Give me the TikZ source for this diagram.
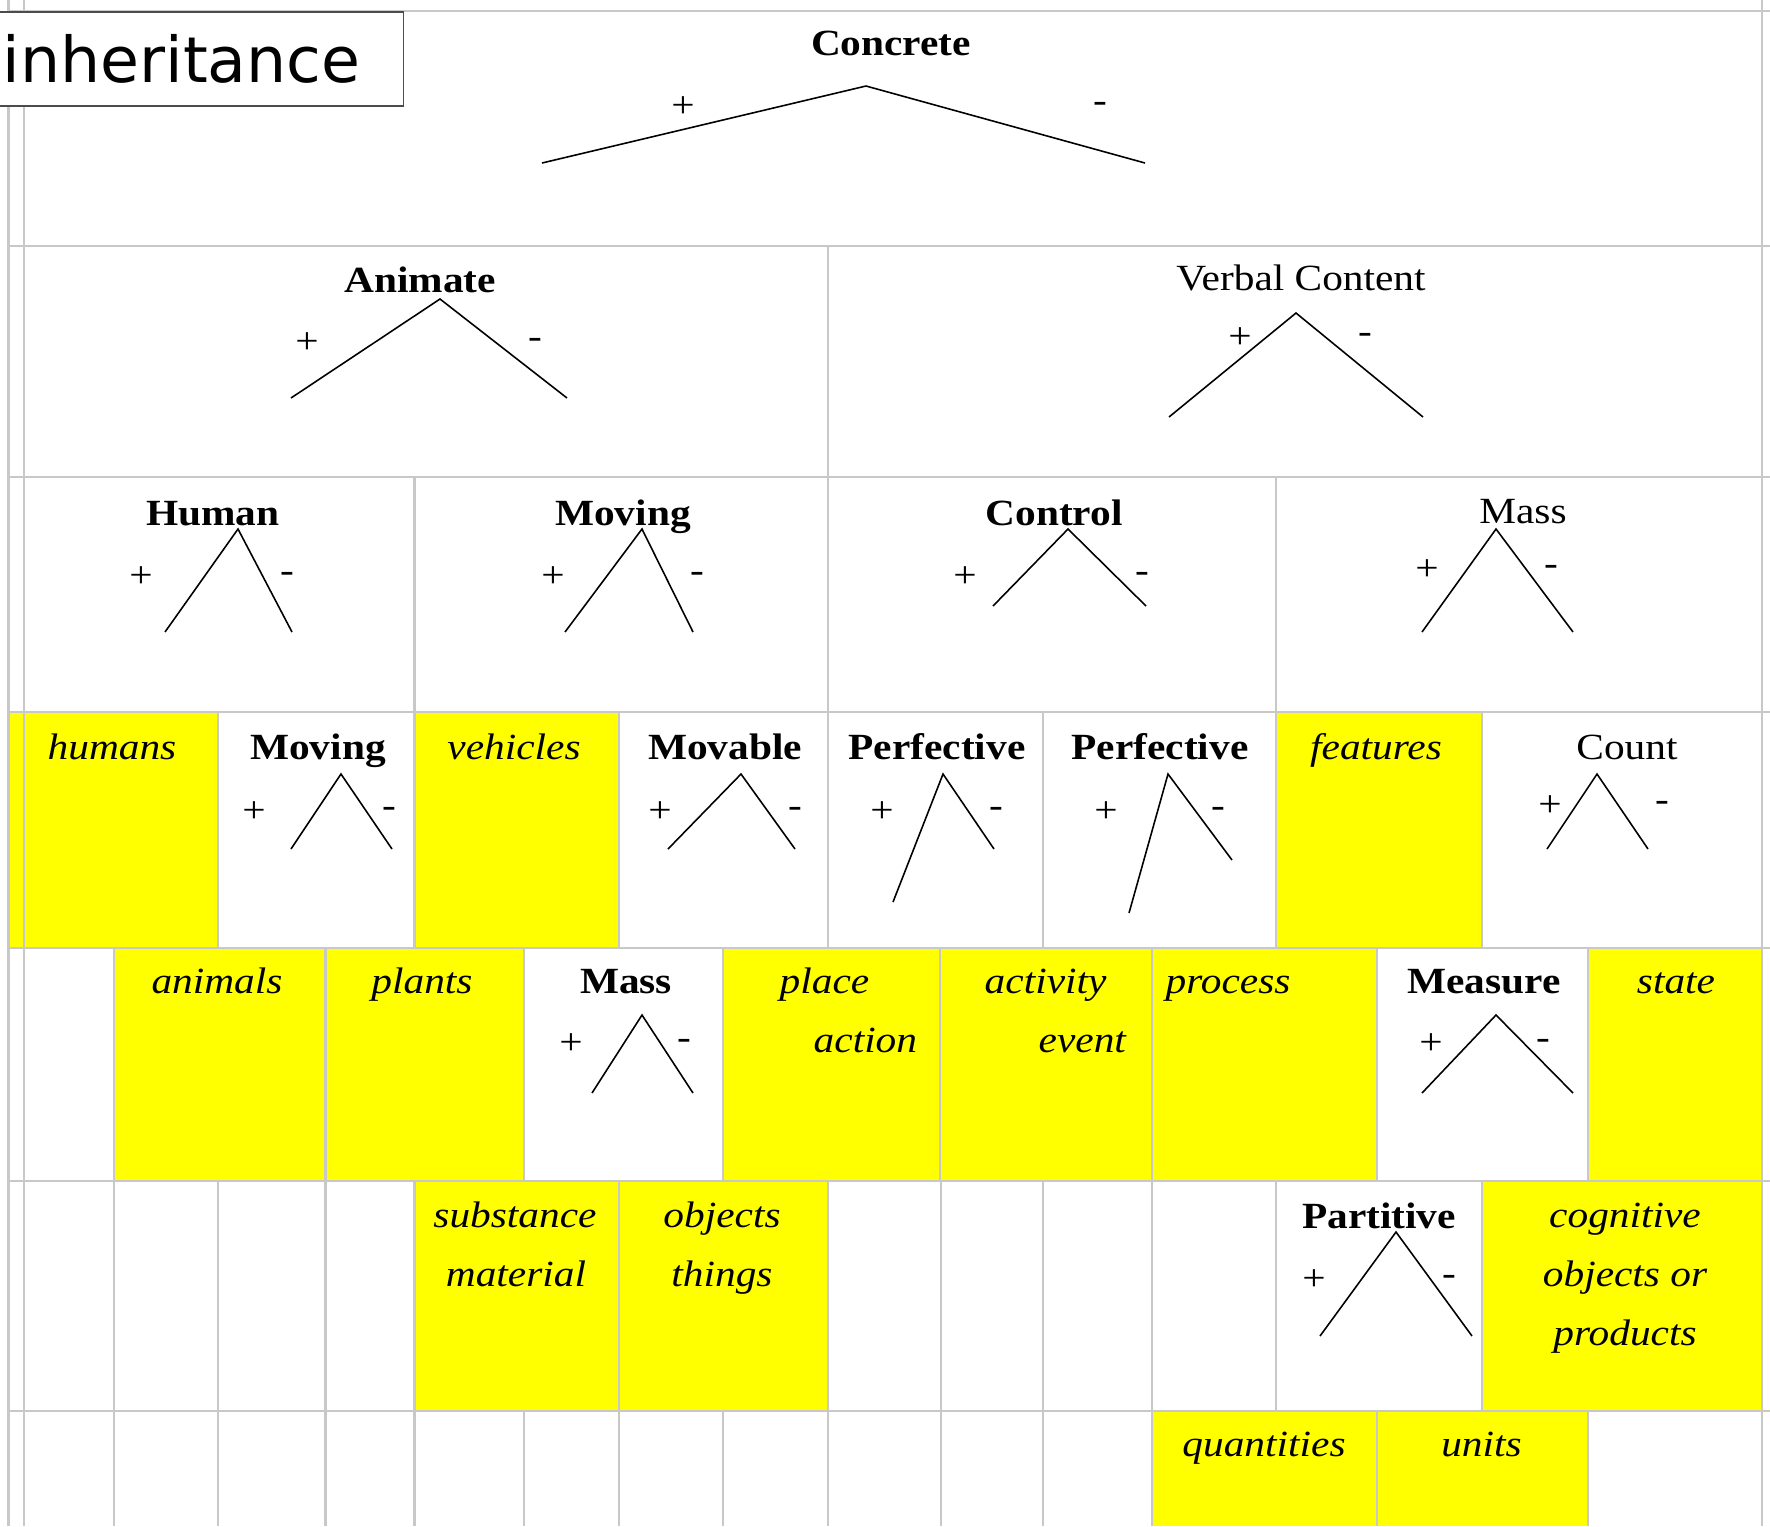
\documentclass[tikz,border=0pt]{standalone}
\usepackage{fontspec}
\setmainfont{Liberation Serif}[FakeStretch=1.12]
\newfontfamily\boxfont{DejaVu Sans}
\usepackage{tikz}
\usetikzlibrary{positioning}

\definecolor{cellyellow}{RGB}{255,255,0}
\definecolor{linegray}{RGB}{200,200,200}

\tikzset{
    gridline/.style={draw=linegray, line width=0.75pt},
    cell/.style={fill=cellyellow},
    leg/.style={draw=black, line width=0.45pt},
    titlebox/.style={draw=black!70, fill=white, line width=0.4pt},
    cat/.style={font=\fontsize{10.5}{12}\selectfont\bfseries, inner sep=0pt, anchor=base},
    catplain/.style={font=\fontsize{10.5}{12}\selectfont, inner sep=0pt, anchor=base},
    word/.style={font=\fontsize{10.5}{12}\selectfont\itshape, inner sep=0pt, anchor=base},
    sign/.style={font=\fontsize{10.5}{12}\selectfont, inner sep=0pt}
}

\begin{document}
\begin{tikzpicture}[x=0.01cm, y=-0.01cm]
    \useasboundingbox (0,0) rectangle (1770,1526);
    \fill[white] (0,0) rectangle (1770,1526);

    % Yellow cells
    \fill[cell] (9,712) rectangle (218,948);
    \fill[cell] (414.5,712) rectangle (619,948);
    \fill[cell] (1276,712) rectangle (1482,948);
    \fill[cell] (114,948) rectangle (524,1181);
    \fill[cell] (723,948) rectangle (1377,1181);
    \fill[cell] (1588,948) rectangle (1763,1181);
    \fill[cell] (414.5,1181) rectangle (828,1411);
    \fill[cell] (1482,1181) rectangle (1763,1411);
    \fill[cell] (1152,1411) rectangle (1588,1526);

    % Grid
    \foreach \y in {11,246,477,712,948,1181,1411}
        \draw[gridline] (8,\y) -- (1770,\y);
    \foreach \x in {8.5,24,1762}
        \draw[gridline] (\x,0) -- (\x,1526);
    \draw[gridline] (828,246) -- (828,477);
    \foreach \x in {414.5,828,1276}
        \draw[gridline] (\x,477) -- (\x,712);
    \foreach \x in {218,414.5,619,828,1043,1276,1482}
        \draw[gridline] (\x,712) -- (\x,948);
    \foreach \x in {114,325.5,524,723,940,1152,1377,1588}
        \draw[gridline] (\x,948) -- (\x,1181);
    \foreach \x in {114,218,325.5,414.5,619,828,941,1043,1152,1276,1482}
        \draw[gridline] (\x,1181) -- (\x,1411);
    \foreach \x in {114,218,325.5,414.5,524,619,723,828,941,1043,1152,1377,1588}
        \draw[gridline] (\x,1411) -- (\x,1526);

    % Title
    \draw[titlebox] (-5,12) rectangle (403.5,106);
    \node[font=\boxfont\fontsize{18}{20}\selectfont, anchor=base west, inner sep=0pt] (title) at (2,82) {inheritance};

    % Categories
    \node[cat] (concrete) at (891,55) {Concrete};
    \node[cat] (animate) at (420,292) {Animate};
    \node[catplain] (verbal) at (1301,290) {Verbal Content};
    \node[cat] (human) at (213,525) {Human};
    \node[cat] (moving) at (623,525) {Moving};
    \node[cat] (control) at (1054,525) {Control};
    \node[catplain] (mass) at (1523,523) {Mass};
    \node[cat] (moving2) at (318,759) {Moving};
    \node[cat] (movable) at (725,759) {Movable};
    \node[cat] (perf) at (937,759) {Perfective};
    \node[cat] (perf2) at (1160,759) {Perfective};
    \node[catplain] (count) at (1627,759) {Count};
    \node[cat] (mass2) at (626,993) {Mass};
    \node[cat] (measure) at (1484,993) {Measure};
    \node[cat] (partitive) at (1379,1228) {Partitive};

    % Words
    \node[word] (humans) at (112,759) {humans};
    \node[word] (vehicles) at (514,759) {vehicles};
    \node[word] (features) at (1376,759) {features};
    \node[word] (animals) at (217,993) {animals};
    \node[word] (plants) at (422,993) {plants};
    \node[word, anchor=base west] (place) at (779,993) {place};
    \node[word, anchor=base west] (action) at (813,1052) {action};
    \node[word, anchor=base west] (activity) at (984,993) {activity};
    \node[word, anchor=base west] (event) at (1038,1052) {event};
    \node[word, anchor=base west] (process) at (1165,993) {process};
    \node[word] (state) at (1676,993) {state};
    \node[word] (substance) at (515,1227) {substance};
    \node[word] (material) at (516,1286) {material};
    \node[word] (objects) at (722,1227) {objects};
    \node[word] (things) at (722,1286) {things};
    \node[word] (cognitive) at (1625,1227) {cognitive};
    \node[word] (objectsor) at (1625,1286) {objects or};
    \node[word] (products) at (1625,1345) {products};
    \node[word] (quantities) at (1264,1456) {quantities};
    \node[word] (units) at (1481.5,1456) {units};

    % Forks
    \foreach \n/\ax/\ay/\lx/\ly/\rx/\ry/\px/\py/\mx/\my in {
        concrete/866/86/542/163/1145/163/683/107/1100/107,
        animate/440/299/291/398/567/398/307/343/535/343,
        verbal/1296/313/1169/417/1423/417/1240/338/1365/338,
        human/238/529/165/632/292/632/141/577/287/577,
        moving/642/529/565/632/693/632/553/577/697/577,
        control/1068/529/993/606/1146/606/965/577/1142/577,
        mass/1496/529/1422/632/1573/632/1427/570/1551/570,
        moving2/341/774/291/849/392/849/254/812/389/812,
        movable/741/774/668/849/795/849/660/812/795/812,
        perf/943/774/893/902/994/849/882/812/996/812,
        perf2/1168/774/1129/913/1232/860/1106/812/1218/812,
        count/1597/774/1547/849/1648/849/1550/806/1662/806,
        mass2/642/1015/592/1093/693/1093/571/1044/684/1044,
        measure/1496/1015/1422/1093/1573/1093/1431/1044/1543/1044,
        partitive/1396/1232/1320/1336/1472/1336/1314/1280/1449/1280}
    {
        \coordinate (\n-top) at (\ax,\ay);
        \coordinate (\n-l) at (\lx,\ly);
        \coordinate (\n-r) at (\rx,\ry);
        \draw[leg] (\n-l) -- (\n-top) -- (\n-r);
        \node[sign] (\n-plus) at (\px,\py) {+};
        \node[sign] (\n-minus) at (\mx,\my) {-};
    }
\end{tikzpicture}
\end{document}
